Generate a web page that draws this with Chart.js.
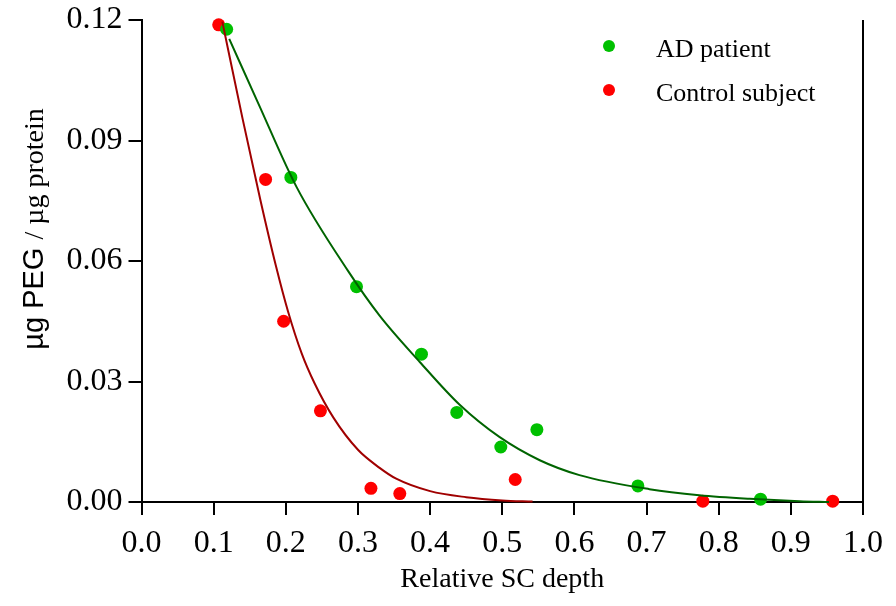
<!DOCTYPE html>
<html>
<head>
<meta charset="utf-8">
<script src="https://cdn.jsdelivr.net/npm/chart.js@4"></script>
<style>
  body { margin: 0; background: #fff; }
</style>
</head>
<body>
<canvas id="depthChart" width="896" height="606"></canvas>
<script>
var adX = [0.118, 0.207, 0.298, 0.388, 0.437, 0.498, 0.548, 0.688, 0.858];
var adY = [0.1177, 0.0808, 0.0536, 0.0368, 0.0223, 0.0137, 0.0180, 0.0040, 0.0007];
var ctrlX = [0.107, 0.172, 0.197, 0.248, 0.318, 0.358, 0.518, 0.778, 0.958];
var ctrlY = [0.1188, 0.0803, 0.0450, 0.0227, 0.0034, 0.0021, 0.0056, 0.0002, 0.0002];

// Fitted curves, sampled off the figure
var adFitX = [0.1216, 0.162, 0.215, 0.286, 0.330, 0.386, 0.441, 0.496, 0.552, 0.607, 0.704, 0.773, 0.843, 0.912, 0.953];
var adFitY = [0.1153, 0.0992, 0.0784, 0.0576, 0.0464, 0.0348, 0.0242, 0.0162, 0.0104, 0.0067, 0.0032, 0.0017, 0.0008, 0.0002, 0.0000];
var ctrlFitX = [0.112, 0.140, 0.165, 0.186, 0.203, 0.222, 0.240, 0.266, 0.300, 0.330, 0.353, 0.400, 0.450, 0.500, 0.542];
var ctrlFitY = [0.1196, 0.0955, 0.0750, 0.0590, 0.0475, 0.0370, 0.0295, 0.0210, 0.0130, 0.0085, 0.0058, 0.0027, 0.0012, 0.0004, 0.0001];

var seriesLabels = ['AD patient', 'Control subject'];
var xTicks = [0, 0.1, 0.2, 0.3, 0.4, 0.5, 0.6, 0.7, 0.8, 0.9, 1.0];
var yTicks = [0, 0.03, 0.06, 0.09, 0.12];

function pts(xs, ys) {
    return xs.map(function (x, i) { return { x: x, y: ys[i] }; });
}

var serif = 'Liberation Serif';

// right frame line, mixed-font y title, legend
var extras = {
    id: 'extras',
    afterDraw: function (chart) {
        var ctx = chart.ctx, a = chart.chartArea;
        ctx.save();
        ctx.strokeStyle = '#000';
        ctx.lineWidth = 2;
        ctx.beginPath();
        ctx.moveTo(a.right, a.top);
        ctx.lineTo(a.right, a.bottom);
        ctx.stroke();

        // y title: "µg PEG" in sans, "/ µg protein" in serif
        var p1 = '\u00b5g PEG ', p2 = '/ \u00b5g protein';
        ctx.fillStyle = '#000';
        ctx.textBaseline = 'alphabetic';
        ctx.textAlign = 'left';
        ctx.font = '29px "Liberation Sans"';
        var w1 = ctx.measureText(p1).width;
        ctx.font = '28px "' + serif + '"';
        var w2 = ctx.measureText(p2).width;
        ctx.translate(43, 229);
        ctx.rotate(-Math.PI / 2);
        var sx = -(w1 + w2) / 2;
        ctx.font = '29px "Liberation Sans"';
        ctx.fillText(p1, sx, 0);
        ctx.font = '28px "' + serif + '"';
        ctx.fillText(p2, sx + w1, 0);
        ctx.setTransform(1, 0, 0, 1, 0, 0);

        // legend
        var items = [chart.data.datasets[2], chart.data.datasets[3]];
        ctx.font = '26px "' + serif + '"';
        items.forEach(function (ds, i) {
            var cy = 46 + i * 44;
            ctx.fillStyle = ds.backgroundColor;
            ctx.beginPath();
            ctx.arc(609, cy, 6, 0, Math.PI * 2);
            ctx.fill();
            ctx.fillStyle = '#000';
            ctx.fillText(ds.label, 656, cy + 11);
        });
        ctx.restore();
    }
};

var ctx = document.getElementById('depthChart').getContext('2d');
var depthChart = new Chart(ctx, {
    type: 'scatter',
    data: {
        datasets: [{
            type: 'line',
            label: 'AD fit',
            data: pts(adFitX, adFitY),
            borderColor: '#006400',
            borderWidth: 2,
            pointRadius: 0,
            cubicInterpolationMode: 'monotone',
            fill: false,
            clip: false
        }, {
            type: 'line',
            label: 'Control fit',
            data: pts(ctrlFitX, ctrlFitY),
            borderColor: '#a00000',
            borderWidth: 2,
            pointRadius: 0,
            cubicInterpolationMode: 'monotone',
            fill: false,
            clip: false
        }, {
            label: seriesLabels[0],
            data: pts(adX, adY),
            backgroundColor: '#00c000',
            borderWidth: 0,
            pointRadius: 6.5,
            clip: false
        }, {
            label: seriesLabels[1],
            data: pts(ctrlX, ctrlY),
            backgroundColor: '#ff0000',
            borderWidth: 0,
            pointRadius: 6.5,
            clip: false
        }]
    },
    options: {
        responsive: false,
        animation: false,
        layout: { padding: { left: 0, right: 33, top: 20, bottom: 0 } },
        plugins: {
            legend: { display: false },
            tooltip: { enabled: false }
        },
        scales: {
            x: {
                type: 'linear',
                min: 0,
                max: 1,
                afterFit: function (s) {
                    s.height = 104;
                    s.paddingLeft = 0;
                    s.paddingRight = 0;
                },
                afterBuildTicks: function (s) { s.ticks = xTicks.map(function (v) { return { value: v }; }); },
                border: { display: true, color: '#000', width: 2 },
                grid: { drawOnChartArea: false, drawTicks: true, tickLength: 13, color: '#000', lineWidth: 2 },
                ticks: {
                    color: '#000',
                    padding: 9,
                    font: { family: serif, size: 32 },
                    callback: function (v) { return v.toFixed(1); }
                },
                title: {
                    display: true,
                    text: 'Relative SC depth',
                    color: '#000',
                    font: { family: serif, size: 28 },
                    padding: { top: 0, bottom: 10 }
                }
            },
            y: {
                min: 0,
                max: 0.12,
                afterFit: function (s) {
                    s.width = 141.5;
                    s.paddingTop = 0;
                    s.paddingBottom = 0;
                },
                afterBuildTicks: function (s) { s.ticks = yTicks.map(function (v) { return { value: v }; }); },
                border: { display: true, color: '#000', width: 2 },
                grid: { drawOnChartArea: false, drawTicks: true, tickLength: 13, color: '#000', lineWidth: 2 },
                ticks: {
                    color: '#000',
                    padding: 6,
                    font: { family: serif, size: 32 },
                    callback: function (v) { return v.toFixed(2); }
                }
            }
        }
    },
    plugins: [extras]
});
</script>
</body>
</html>
